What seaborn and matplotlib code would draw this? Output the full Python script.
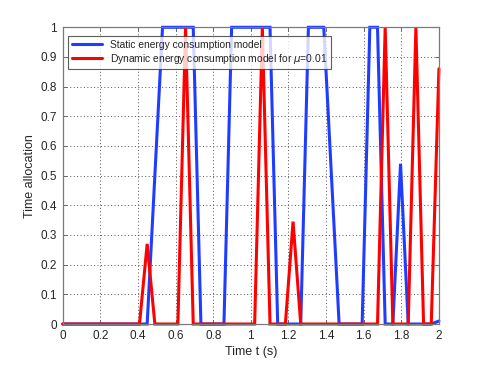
import numpy as np
import pandas as pd
import matplotlib
matplotlib.use("Agg")
import matplotlib.pyplot as plt
import seaborn as sns

# ---- data ----
time_s = np.linspace(0, 2, 50)
static_model = [0, 0, 0, 0, 0, 0, 0, 0, 0, 0,
                0, 0, 0.5, 1, 1, 1, 1, 1, 0, 0,
                0, 0, 1, 1, 1, 1, 1, 1, 0, 0,
                0, 0, 1, 1, 1, 0.5, 0, 0, 0, 0,
                1, 1, 0, 0, 0.54, 0, 0, 0, 0, 0.01]
dynamic_model = [0, 0, 0, 0, 0, 0, 0, 0, 0, 0,
                 0, 0.27, 0, 0, 0, 0, 1, 0, 0, 0,
                 0, 0, 0, 0, 0, 0, 1, 0, 0, 0,
                 0.345, 0, 0, 0, 0, 0, 0, 0, 0, 0,
                 0, 0, 1, 0, 0, 0, 1, 0, 0, 0.86]
series_names = ["Static energy consumption model",
                r"Dynamic energy consumption model for $\mu$=0.01"]
x_ticks = [0, 0.2, 0.4, 0.6, 0.8, 1, 1.2, 1.4, 1.6, 1.8, 2]
x_tick_labels = ["0", "0.2", "0.4", "0.6", "0.8", "1", "1.2", "1.4", "1.6", "1.8", "2"]
y_ticks = [0, 0.1, 0.2, 0.3, 0.4, 0.5, 0.6, 0.7, 0.8, 0.9, 1]
y_tick_labels = ["0", "0.1", "0.2", "0.3", "0.4", "0.5", "0.6", "0.7", "0.8", "0.9", "1"]

df = pd.DataFrame({
    "t": np.concatenate([time_s, time_s]),
    "v": static_model + dynamic_model,
    "model": [series_names[0]] * len(time_s) + [series_names[1]] * len(time_s),
})

sns.set_theme(style="white")
plt.rcParams["font.family"] = ["Liberation Sans", "DejaVu Sans"]
plt.rcParams["mathtext.fontset"] = "dejavusans"

fig = plt.figure(figsize=(4.85, 3.65), dpi=100)
ax = fig.add_axes([0.1293, 0.1123, 0.7757, 0.8129])

sns.lineplot(data=df, x="t", y="v", hue="model", hue_order=series_names,
             palette=["#1f3dff", "#ff0000"], linewidth=2.2, ax=ax,
             estimator=None, sort=False)
for ln in ax.lines:
    ln.set_clip_on(False)
    ln.set_solid_joinstyle("miter")

ax.set_xlim(0, 2)
ax.set_ylim(0, 1)
ax.set_xticks(x_ticks)
ax.set_xticklabels(x_tick_labels)
ax.set_yticks(y_ticks)
ax.set_yticklabels(y_tick_labels)
ax.grid(True, linestyle=(0, (1, 2.5)), color="#555555", linewidth=0.7)
ax.tick_params(direction="in", length=3, width=0.7, colors="#666666",
               labelcolor="#262626", labelsize=8.5, pad=4,
               top=True, right=True, bottom=True, left=True)
for s in ax.spines.values():
    s.set_color("#7a7a7a")
    s.set_linewidth(0.9)
ax.set_xlabel("Time t (s)", fontsize=9, color="#262626", labelpad=3)
ax.set_ylabel("Time allocation", fontsize=9, color="#262626", labelpad=3)

leg = ax.legend(loc="upper left", bbox_to_anchor=(0.014, 0.971), fontsize=7.4,
                frameon=True, fancybox=False, edgecolor="#333333",
                handlelength=3.0, handletextpad=0.7, borderpad=0.35,
                labelspacing=0.2, borderaxespad=0)
leg.get_frame().set_linewidth(0.8)
for t in leg.get_texts():
    t.set_color("#262626")

fig.savefig("out.png", dpi=100)
